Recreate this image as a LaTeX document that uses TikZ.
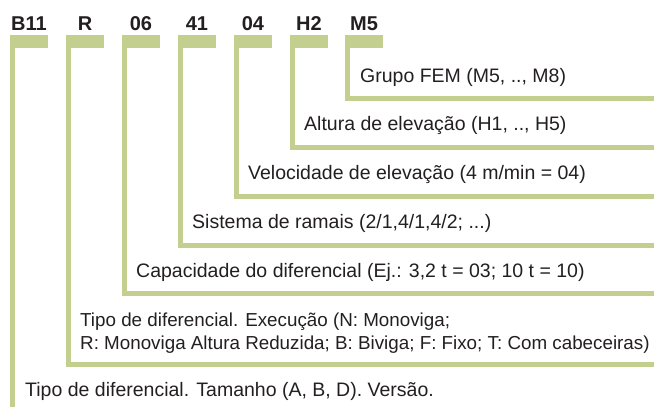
\documentclass[tikz,border=0pt]{standalone}
\usepackage{fontspec}
\setmainfont{Liberation Sans}
\usepackage{xcolor}
\usepackage{tikz}
\definecolor{codegreen}{RGB}{194,207,142}
\definecolor{codetext}{RGB}{35,31,32}

\begin{document}
\begin{tikzpicture}[x=1pt,y=-1pt,
  code/.style={font=\fontsize{20}{24}\selectfont\bfseries, text=codetext, inner sep=0pt, anchor=base},
  bar/.style={fill=codegreen, minimum width=38pt, minimum height=12.5pt, inner sep=0pt, anchor=north west},
  desc/.style={font=\fontsize{19.5}{23}\selectfont, text=codetext, inner sep=0pt, anchor=base west, align=left},
  link/.style={draw=codegreen, line width=5pt}]
\useasboundingbox (0,0) rectangle (654,407);

% code letters
\node[code] (cB11) at (29,30) {B11};
\node[code] (cR) at (85,30) {R};
\node[code] (c06) at (141,30) {06};
\node[code] (c41) at (197,30) {41};
\node[code] (c04) at (253,30) {04};
\node[code] (cH2) at (309,30) {H2};
\node[code] (cM5) at (364,30) {M5};

% bars under the letters
\node[bar] (bB11) at (10,35) {};
\node[bar] (bR) at (66,35) {};
\node[bar] (b06) at (122,35) {};
\node[bar] (b41) at (178,35) {};
\node[bar] (b04) at (234,35) {};
\node[bar] (bH2) at (290,35) {};
\node[bar] (bM5) at (345,35) {};

% descriptions
\node[desc] (dM5) at (360,82.5) {Grupo FEM (M5, .., M8)};
\node[desc] (dH2) at (304,130) {Altura de elevação (H1, .., H5)};
\node[desc] (d04) at (248,179) {Velocidade de elevação (4 m/min = 04)};
\node[desc] (d41) at (192,228) {Sistema de ramais (2/1,4/1,4/2; ...)};
\node[desc] (d06) at (136,277) {Capacidade do diferencial (Ej.: 3,2 t = 03; 10 t = 10)};
\node[desc, font=\fontsize{18.8}{23}\selectfont] (dR) at (80,349) {Tipo de diferencial. Execução (N: Monoviga;\\R: Monoviga Altura Reduzida; B: Biviga; F: Fixo; T: Com cabeceiras)};
\node[desc] (dB11) at (25,396) {Tipo de diferencial. Tamanho (A, B, D). Versão.};

% lines from the bars
\coordinate (eM5) at (654,98.5);
\coordinate (eH2) at (654,147);
\coordinate (e04) at (654,196);
\coordinate (e41) at (654,245);
\coordinate (e06) at (654,293);
\coordinate (eR) at (654,364);
\coordinate (eB11) at (12.5,407);
\draw[link] ([xshift=2.5pt]bM5.south west) |- (eM5);
\draw[link] ([xshift=2.5pt]bH2.south west) |- (eH2);
\draw[link] ([xshift=2.5pt]b04.south west) |- (e04);
\draw[link] ([xshift=2.5pt]b41.south west) |- (e41);
\draw[link] ([xshift=2.5pt]b06.south west) |- (e06);
\draw[link] ([xshift=2.5pt]bR.south west) |- (eR);
\draw[link] ([xshift=2.5pt]bB11.south west) -- (eB11);
\end{tikzpicture}
\end{document}
